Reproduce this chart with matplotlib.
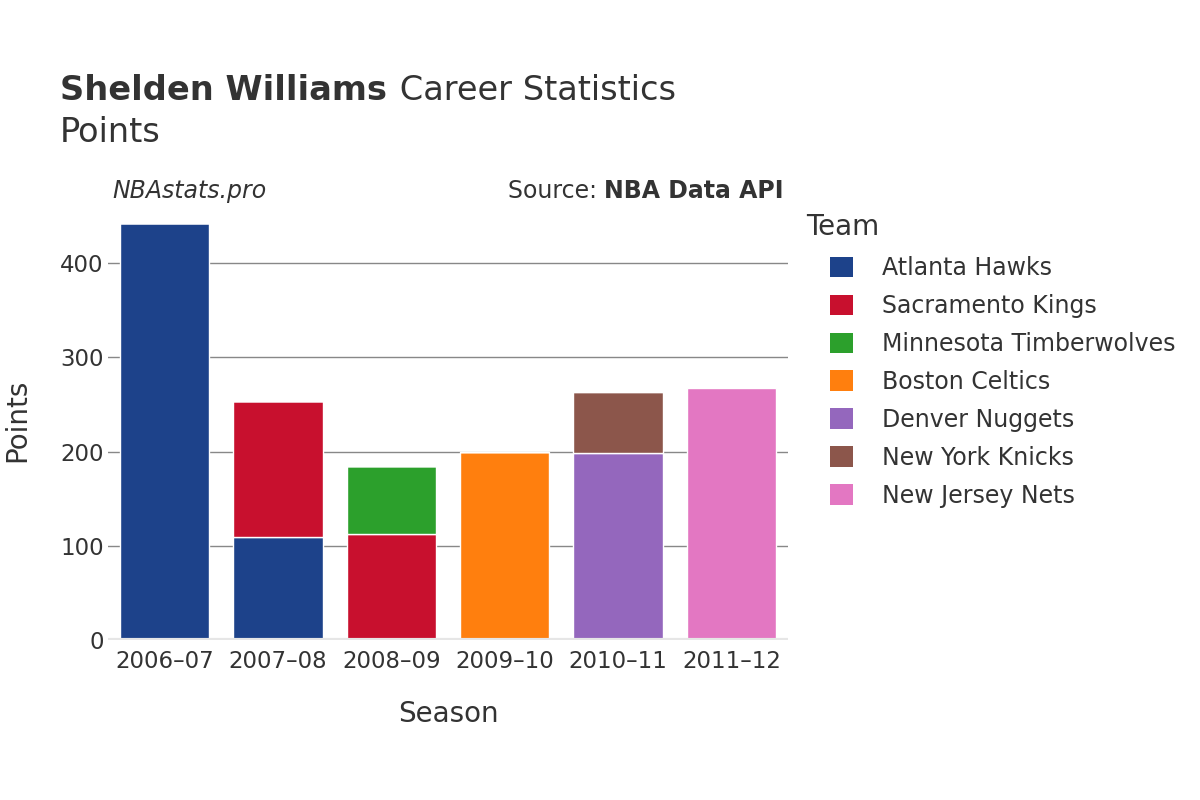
import matplotlib
matplotlib.use("Agg")
import matplotlib.pyplot as plt
import numpy as np

plt.rcParams['font.family'] = ['DejaVu Sans']

seasons = ["2006–07", "2007–08", "2008–09", "2009–10", "2010–11", "2011–12"]
teams = ["Atlanta Hawks", "Sacramento Kings", "Minnesota Timberwolves",
         "Boston Celtics", "Denver Nuggets", "New York Knicks", "New Jersey Nets"]
colors = ["#1d428a", "#c8102e", "#2ca02c", "#ff7f0e", "#9467bd", "#8c564b", "#e377c2"]

# points per team per season (0 = did not play for that team)
atlanta    = [443, 109, 0, 0, 0, 0]
sacramento = [0, 145, 112, 0, 0, 0]
minnesota  = [0, 0, 73, 0, 0, 0]
boston     = [0, 0, 0, 200, 0, 0]
denver     = [0, 0, 0, 0, 198, 0]
new_york   = [0, 0, 0, 0, 65, 0]
new_jersey = [0, 0, 0, 0, 0, 267]
series = [atlanta, sacramento, minnesota, boston, denver, new_york, new_jersey]

txt = "#333333"
fig = plt.figure(figsize=(12, 8), dpi=100)
ax = fig.add_axes([0.09, 0.2, 0.5667, 0.55])

x = np.arange(len(seasons))
bottom = np.zeros(len(seasons))
handles = []
for team, vals, c in zip(teams, series, colors):
    vals = np.array(vals, dtype=float)
    h = ax.bar(x, vals, width=0.79, bottom=bottom, color=c, edgecolor="white",
               linewidth=1, zorder=3, label=team)
    handles.append(h)
    bottom += vals

ax.set_xlim(-0.5, 5.5)
ax.set_ylim(0, 467)
ax.set_yticks([0, 100, 200, 300, 400])
ax.grid(axis="y", color="#888888", linewidth=1, zorder=0)
ax.axhline(0, color="#e6e6e6", linewidth=3, zorder=4)
for s in ax.spines.values():
    s.set_visible(False)
ax.set_xticks(x)
ax.set_xticklabels(seasons)
ax.tick_params(axis="x", length=0, labelsize=16.5, labelcolor=txt, pad=7)
ax.tick_params(axis="y", length=0, labelsize=16.5, labelcolor=txt, pad=3)

ax.set_xlabel("Season", fontsize=20, color=txt, labelpad=20)
fig.text(0.014, 0.475, "Points", rotation=90, fontsize=20, color=txt,
         ha="center", va="center")

# title
t1 = fig.text(0.05, 0.887, "Shelden Williams", fontsize=24.2, fontweight="bold",
              color=txt, va="center")
fig.canvas.draw()
bb = t1.get_window_extent()
fig.text(bb.x1 / 1200 + 0.002, 0.887, " Career Statistics", fontsize=24.2,
         color=txt, va="center")
fig.text(0.05, 0.834, "Points", fontsize=24.2, color=txt, va="center")

fig.text(0.094, 0.761, "NBAstats.pro", fontsize=17, style="italic", color=txt,
         va="center")
s2 = fig.text(0.6533, 0.761, "NBA Data API", fontsize=17, fontweight="bold",
              color=txt, va="center", ha="right")
fig.canvas.draw()
bb2 = s2.get_window_extent()
fig.text(bb2.x0 / 1200, 0.761, "Source: ", fontsize=17, color=txt,
         va="center", ha="right")

fig.text(0.6717, 0.716, "Team", fontsize=20, color=txt, va="center")
leg = fig.legend(handles=handles, labels=teams, loc="upper left",
                 bbox_to_anchor=(0.692, 0.680), frameon=False, fontsize=17,
                 labelcolor=txt, handlelength=0.95, handleheight=0.95,
                 handletextpad=1.25, labelspacing=0.59, borderaxespad=0,
                 borderpad=0)
for p in leg.get_patches():
    p.set_edgecolor("none")

fig.savefig("out.png", dpi=100)
